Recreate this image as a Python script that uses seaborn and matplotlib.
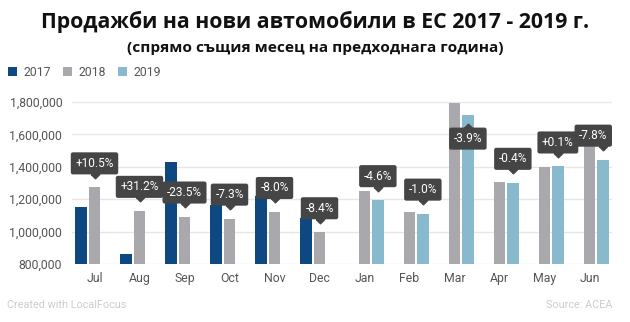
import numpy as np
import pandas as pd
import matplotlib
matplotlib.use("Agg")
import matplotlib.pyplot as plt
import seaborn as sns
from matplotlib.patches import Patch
from matplotlib.ticker import FuncFormatter
from matplotlib.transforms import offset_copy

# ---------------- data ----------------
months = ["Jul", "Aug", "Sep", "Oct", "Nov", "Dec", "Jan", "Feb", "Mar", "Apr", "May", "Jun"]
years = ["2017", "2018", "2019"]
sales_2017 = [1152000, 859000, 1429000, 1165000, 1219000, 1087000,
              np.nan, np.nan, np.nan, np.nan, np.nan, np.nan]
sales_2018 = [1273000, 1128000, 1093000, 1080000, 1121000, 996000,
              1251000, 1123000, 1792000, 1306000, 1401000, 1566000]
sales_2019 = [np.nan, np.nan, np.nan, np.nan, np.nan, np.nan,
              1194000, 1111000, 1722000, 1301000, 1402000, 1444000]
changes = ["+10.5%", "+31.2%", "-23.5%", "-7.3%", "-8.0%", "-8.4%",
           "-4.6%", "-1.0%", "-3.9%", "-0.4%", "+0.1%", "-7.8%"]
current_year = ["2018"] * 6 + ["2019"] * 6
y_ticks = [800000, 1000000, 1200000, 1400000, 1600000, 1800000]

colors = {"2017": "#0e4880", "2018": "#a9a9ad", "2019": "#88b9cc"}

rows = []
for yr, vals in zip(years, [sales_2017, sales_2018, sales_2019]):
    for m, v in zip(months, vals):
        if not np.isnan(v):
            rows.append({"month": m, "year": yr, "sales": v})
df = pd.DataFrame(rows)

# ---------------- figure ----------------
sns.set_style("white")
plt.rcParams["font.family"] = ["Roboto", "DejaVu Sans"]

fig = plt.figure(figsize=(6.3, 3.22), dpi=100)
ax = fig.add_axes([72 / 630, 1 - 264 / 322, (612 - 72) / 630, (264 - 95.5) / 322])

sns.barplot(data=df, x="month", y="sales", hue="year", order=months, hue_order=years,
            palette=colors, width=0.89, gap=0.12, ax=ax, legend=False,
            errorbar=None, linewidth=0, saturation=1)

ax.set_ylim(800000, 1840000)
ax.set_xlim(-0.5, len(months) - 0.5)
ax.set_yticks(y_ticks)
ax.yaxis.set_major_formatter(FuncFormatter(lambda v, p: f"{int(v):,}"))
ax.grid(axis="y", color="#e6e6e6", linewidth=1)
ax.set_axisbelow(True)
for s in ax.spines.values():
    s.set_visible(False)
ax.tick_params(axis="both", length=0, labelsize=8.8, colors="#555555")
ax.tick_params(axis="x", pad=6)
ax.tick_params(axis="y", pad=7)
ax.set_xlabel("")
ax.set_ylabel("")

# ---------------- annotations ----------------
fig.canvas.draw()
renderer = fig.canvas.get_renderer()
ax_top_px = ax.transAxes.transform((0, 1))[1]
ax_right_px = ax.transAxes.transform((1, 0))[0]
cont = {yr: c for yr, c in zip(years, ax.containers)}
px2pt = 72 / fig.dpi
tri_down = [(-1, 0), (1, 0), (0, -1), (-1, 0)]
tri_up = [(-1, 0), (1, 0), (0, 1), (-1, 0)]

for i, (lab, yr) in enumerate(zip(changes, current_year)):
    bars = [b for b in cont[yr] if not np.isnan(b.get_height())]
    bar = min(bars, key=lambda b: abs(b.get_x() + b.get_width() / 2 - i))
    xc = bar.get_x() + bar.get_width() / 2
    h = bar.get_height()
    top_px = ax.transData.transform((xc, h))[1]
    flip = top_px + 36 > ax_top_px
    sign = -1 if flip else 1
    ann = ax.annotate(lab, xy=(xc, h), xytext=(0, sign * 17.5 * px2pt),
                      textcoords="offset points", ha="center",
                      va="top" if flip else "bottom",
                      color="white", fontsize=8.6, zorder=5,
                      bbox=dict(boxstyle="round,pad=0.38,rounding_size=0.18",
                                fc="#454545", ec="none"))
    fig.canvas.draw()
    ext = ann.get_bbox_patch().get_window_extent(renderer)
    if ext.x1 > ax_right_px:
        ann.set_position((-(ext.x1 - ax_right_px) * px2pt, sign * 17.5 * px2pt))
    tr = offset_copy(ax.transData, fig=fig, x=0, y=sign * 13.5, units="dots")
    ax.plot([xc], [h], marker=tri_up if flip else tri_down, markersize=6.2,
            color="#454545", transform=tr, zorder=5, clip_on=False, linestyle="none")

# ---------------- titles / legend / footer ----------------
fig.text(0.5, 1 - 28 / 322, "Продажби на нови автомобили в ЕС 2017 - 2019 г.",
         ha="center", va="baseline", fontsize=15.3, fontweight="bold",
         family=["Open Sans", "DejaVu Sans"], color="#111111")
fig.text(0.5, 1 - 52 / 322, "(спрямо същия месец на предходнага година)",
         ha="center", va="baseline", fontsize=11.1, fontweight="bold",
         family=["Open Sans", "DejaVu Sans"], color="#111111")

handles = [Patch(facecolor=colors[y], edgecolor="none", label=y) for y in years]
leg = fig.legend(handles=handles, loc="center left", bbox_to_anchor=(8 / 630, 1 - 72 / 322),
                 ncol=3, frameon=False, handlelength=0.75, handleheight=0.75,
                 handletextpad=0.55, columnspacing=0.95, fontsize=8.8,
                 borderpad=0, borderaxespad=0)
for t in leg.get_texts():
    t.set_color("#555555")

fig.text(7 / 630, 1 - 305 / 322, "Created with LocalFocus", ha="left", va="center",
         fontsize=7.8, color="#cccccc")
fig.text(613 / 630, 1 - 305 / 322, "Source: ACEA", ha="right", va="center",
         fontsize=7.8, color="#cccccc")

fig.savefig("out.png", dpi=100)
